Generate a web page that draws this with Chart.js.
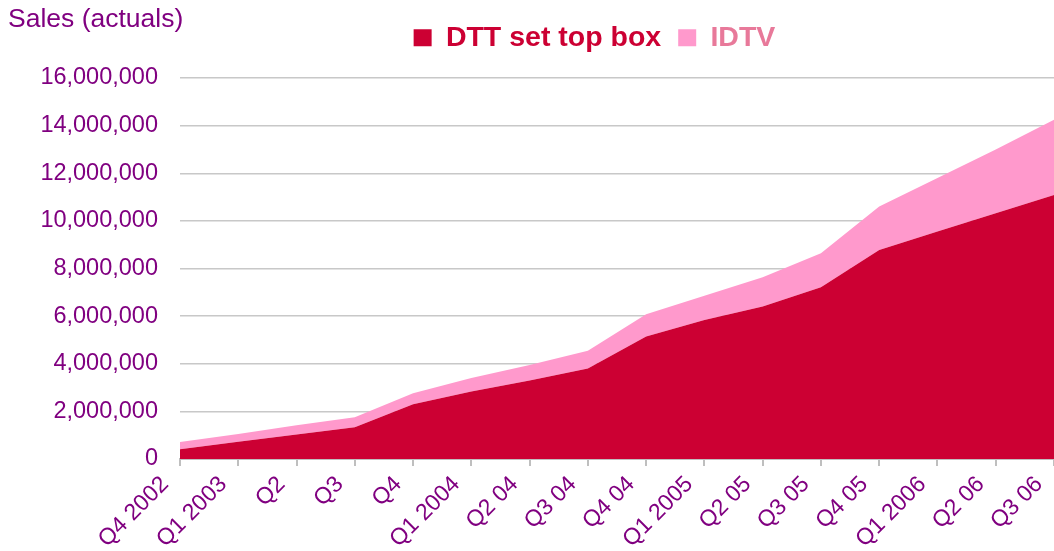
<!DOCTYPE html>
<html>
<head>
<meta charset="utf-8">
<script src="https://cdn.jsdelivr.net/npm/chart.js@4/dist/chart.umd.min.js"></script>
<style>
  html, body { margin: 0; padding: 0; background: #fff; }
  #wrap { width: 1054px; height: 551px; position: relative; }
</style>
</head>
<body>
<div id="wrap"><canvas id="myChart"></canvas></div>
<script>
// Trimestres (axe X)
var quarters = ['Q4 2002', 'Q1 2003', 'Q2', 'Q3', 'Q4', 'Q1 2004', 'Q2 04', 'Q3 04',
  'Q4 04', 'Q1 2005', 'Q2 05', 'Q3 05', 'Q4 05', 'Q1 2006', 'Q2 06', 'Q3 06'];

// Ventes (empilées)
var dttSetTopBox = [410000, 720000, 1030000, 1330000, 2300000, 2830000, 3300000, 3800000,
  5140000, 5840000, 6400000, 7210000, 8780000, 9550000, 10320000, 11090000];
var idtv = [300000, 330000, 390000, 420000, 460000, 570000, 650000, 750000,
  940000, 1020000, 1230000, 1430000, 1820000, 2250000, 2680000, 3160000];

var yTicks = [0, 2000000, 4000000, 6000000, 8000000, 10000000, 12000000, 14000000, 16000000];

var purple = '#800080';
var fontFamily = '"Liberation Sans", Arial, sans-serif';

// Titre de l'axe en haut à gauche + décalage de la légende
var salesTitle = {
  id: 'salesTitle',
  afterLayout: function (chart) {
    var lg = chart.legend;
    lg.left += 135;
    lg.top -= 16;
    lg.bottom -= 16;
  },
  afterDraw: function (chart) {
    var c = chart.ctx;
    c.save();
    c.font = '26.5px ' + fontFamily;
    c.fillStyle = purple;
    c.textAlign = 'left';
    c.textBaseline = 'alphabetic';
    c.fillText('Sales (actuals)', 8, 27);
    c.restore();
  }
};

var legendColors = ['#CC0033', '#E8799A'];

var ctx = document.getElementById('myChart').getContext('2d');
new Chart(ctx, {
  type: 'line',
  data: {
    labels: quarters,
    datasets: [{
      label: 'DTT set top box',
      data: dttSetTopBox,
      backgroundColor: '#CC0033',
      borderColor: '#CC0033',
      borderWidth: 0,
      pointRadius: 0,
      fill: 'origin'
    }, {
      label: 'IDTV',
      data: idtv,
      backgroundColor: '#FF99CC',
      borderColor: '#FF99CC',
      borderWidth: 0,
      pointRadius: 0,
      fill: '-1'
    }]
  },
  options: {
    responsive: true,
    maintainAspectRatio: false,
    animation: false,
    layout: { padding: { left: 0, top: 5, right: 0, bottom: 0 } },
    plugins: {
      tooltip: { enabled: false },
      legend: {
        position: 'top',
        align: 'center',
        labels: {
          boxWidth: 18,
          boxHeight: 17,
          padding: 17,
          font: { family: fontFamily, size: 28.5, weight: 'bold' },
          generateLabels: function (chart) {
            var items = Chart.defaults.plugins.legend.labels.generateLabels(chart);
            items.forEach(function (it, i) {
              it.fontColor = legendColors[i];
              it.lineWidth = 0;
            });
            return items;
          }
        }
      }
    },
    scales: {
      x: {
        offset: false,
        grid: {
          drawOnChartArea: false,
          drawTicks: true,
          tickLength: 7,
          color: '#BFBFBF',
          lineWidth: 2
        },
        border: { display: true, color: '#BFBFBF', width: 2 },
        ticks: {
          autoSkip: false,
          maxRotation: 45,
          minRotation: 45,
          padding: 5,
          labelOffset: -15,
          color: purple,
          font: { family: fontFamily, size: 23 }
        },
        afterFit: function (scale) {
          scale.height = 92;
          scale.paddingLeft = 0;
          scale.paddingRight = 0;
        }
      },
      y: {
        stacked: true,
        min: 0,
        max: 16000000,
        afterBuildTicks: function (scale) {
          scale.ticks = yTicks.map(function (v) { return { value: v }; });
        },
        grid: {
          drawTicks: false,
          color: '#C8C8C8',
          lineWidth: 1.5
        },
        border: { display: false },
        ticks: {
          padding: 22,
          color: purple,
          font: { family: fontFamily, size: 23.5 },
          callback: function (v) { return Number(v).toLocaleString('en-US'); }
        },
        afterFit: function (scale) {
          scale.width = 180;
          scale.paddingTop = 78;
        }
      }
    }
  },
  plugins: [salesTitle]
});
</script>
</body>
</html>
